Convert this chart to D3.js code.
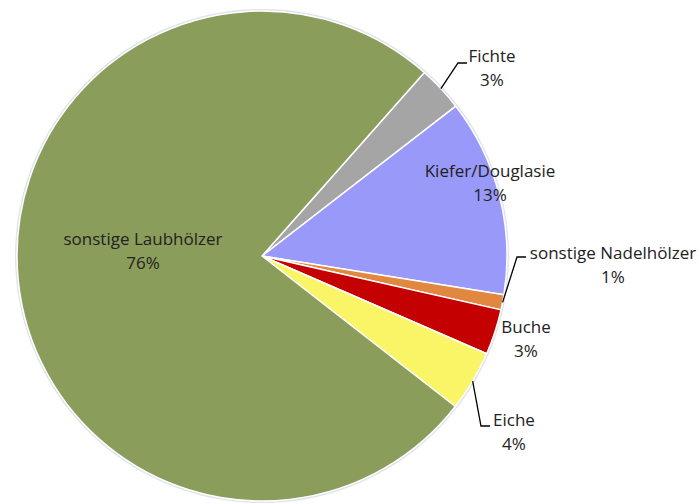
<!DOCTYPE html>
<html>
<head>
<meta charset="utf-8">
<script src="https://cdn.jsdelivr.net/npm/d3@7"></script>
<style>
  html, body { margin: 0; padding: 0; background: #ffffff; }
  svg { display: block; }
  text { font-family: "Open Sans", Lato, sans-serif; fill: #222222; }
</style>
</head>
<body>
<svg id="chart" width="699" height="504"></svg>
<script>
// Holzartenanteile (Prozent), im Uhrzeigersinn ab der Fichte
const categories = ["Fichte", "Kiefer/Douglasie", "sonstige Nadelhölzer", "Buche", "Eiche", "sonstige Laubhölzer"];
const values = [3, 13, 1, 3, 4, 76];
const valueLabels = ["3%", "13%", "1%", "3%", "4%", "76%"];
const colors = ["#a5a5a5", "#9999fa", "#e1873f", "#c40000", "#f9f566", "#8a9d5a"];

// label placement: text centre/baseline of the first line, optional leader bend + end
const labelLayout = {
  "Fichte":               { x: 492, y: 62,  leader: [[458, 63], [467, 63]] },
  "Kiefer/Douglasie":     { x: 490, y: 177 },
  "sonstige Nadelhölzer": { x: 613, y: 259, leader: [[517, 257], [526, 257]] },
  "Buche":                { x: 526, y: 333 },
  "Eiche":                { x: 514, y: 426, leader: [[481, 426], [490, 426]] },
  "sonstige Laubhölzer":  { x: 143, y: 245 }
};

const cx = 262, cy = 256, R = 245;
const startDeg = 41.5;

const svg = d3.select("#chart");
const g = svg.append("g").attr("transform", `translate(${cx},${cy})`);

const data = categories.map((c, i) => ({ name: c, value: values[i], label: valueLabels[i], color: colors[i] }));

const pie = d3.pie()
  .value(d => d.value)
  .sort(null)
  .startAngle(startDeg * Math.PI / 180)
  .endAngle(startDeg * Math.PI / 180 + 2 * Math.PI);

const arc = d3.arc().innerRadius(0).outerRadius(R);
const arcs = pie(data);

// faint outer rim
g.append("circle")
  .attr("r", R + 1)
  .attr("fill", "none")
  .attr("stroke", "#dfe3ea")
  .attr("stroke-width", 2);

g.selectAll("path.slice")
  .data(arcs)
  .join("path")
  .attr("class", "slice")
  .attr("d", arc)
  .attr("fill", d => d.data.color)
  .attr("stroke", "#ffffff")
  .attr("stroke-width", 1.5)
  .attr("stroke-linejoin", "round");

// leader lines from slice edge (mid angle) to label
arcs.forEach(a => {
  const lay = labelLayout[a.data.name];
  if (!lay.leader) return;
  const mid = (a.startAngle + a.endAngle) / 2;
  const p0 = [cx + R * Math.sin(mid), cy - R * Math.cos(mid)];
  const pts = [p0, ...lay.leader];
  svg.append("path")
    .attr("d", d3.line()(pts))
    .attr("fill", "none")
    .attr("stroke", "#000000")
    .attr("stroke-width", 1.3);
});

// labels
arcs.forEach(a => {
  const lay = labelLayout[a.data.name];
  const t = svg.append("text")
    .attr("text-anchor", "middle")
    .attr("font-size", 17);
  t.append("tspan").attr("x", lay.x).attr("y", lay.y).text(a.data.name);
  t.append("tspan").attr("x", lay.x).attr("y", lay.y + 23.5).text(a.data.label);
});
</script>
</body>
</html>
